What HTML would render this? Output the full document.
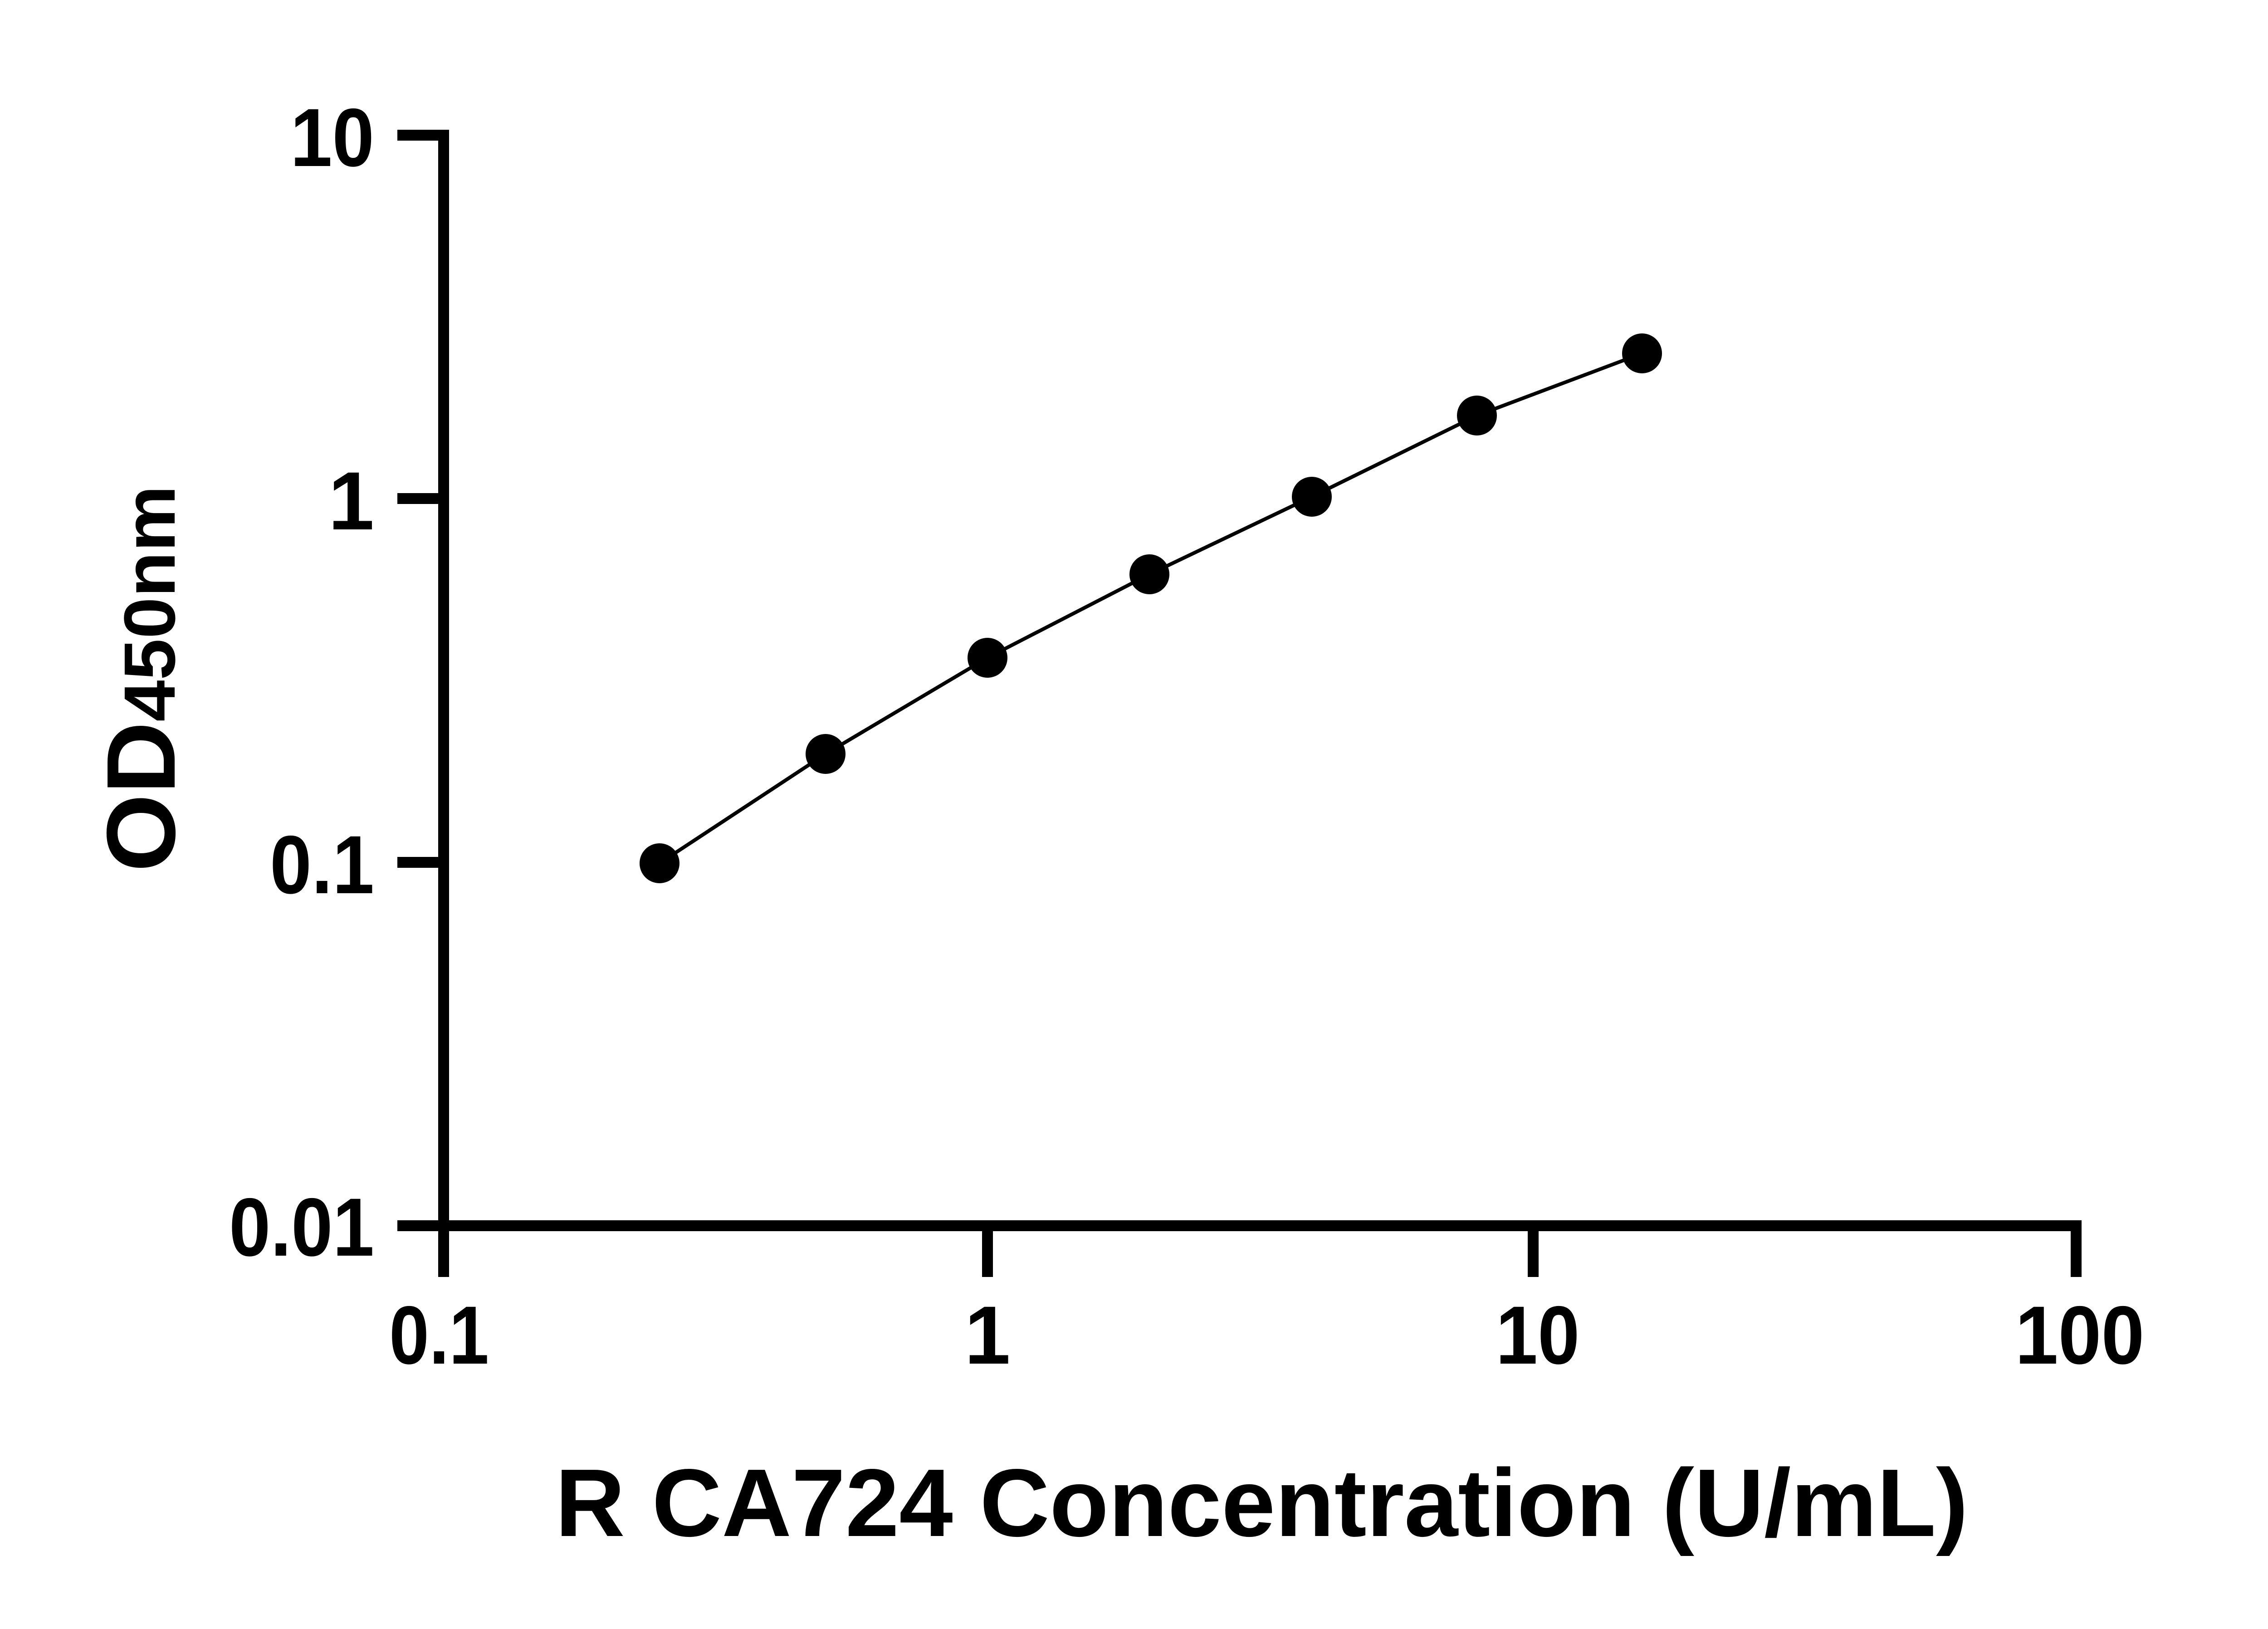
<!DOCTYPE html>
<html><head><meta charset="utf-8"><style>html,body{margin:0;padding:0;background:#fff}svg{display:block}
.t{font-family:"Liberation Sans",Arial,sans-serif;font-weight:bold}
</style></head>
<body>
<svg width="5138" height="3591" viewBox="0 0 5138 3591" xmlns="http://www.w3.org/2000/svg">
<rect width="5138" height="3591" fill="#fff"/>
<g stroke="#000" stroke-width="24" fill="none">
<line x1="978" y1="286" x2="978" y2="2815"/>
<line x1="966" y1="2702" x2="4589" y2="2702"/>
<line x1="876" y1="298" x2="990" y2="298"/>
<line x1="876" y1="1099" x2="978" y2="1099"/>
<line x1="876" y1="1901" x2="978" y2="1901"/>
<line x1="876" y1="2702" x2="978" y2="2702"/>
<line x1="2177" y1="2702" x2="2177" y2="2815"/>
<line x1="3380" y1="2702" x2="3380" y2="2815"/>
<line x1="4577" y1="2690" x2="4577" y2="2815"/>
</g>
<polyline fill="none" stroke="#000" stroke-width="8" points="1454,1903 1820,1662 2177,1450 2534,1266 2892,1095 3256,916 3620,779"/>
<g fill="#000">
<circle cx="1454" cy="1903" r="44"/>
<circle cx="1820" cy="1662" r="44"/>
<circle cx="2177" cy="1450" r="44"/>
<circle cx="2534" cy="1266" r="44"/>
<circle cx="2892" cy="1095" r="44"/>
<circle cx="3256" cy="916" r="44"/>
<circle cx="3620" cy="779" r="44"/>
</g>
<g class="t" font-size="182" fill="#000">
<text x="825" y="366" text-anchor="end" textLength="185" lengthAdjust="spacingAndGlyphs">10</text>
<text x="825" y="1167" text-anchor="end">1</text>
<text x="825" y="1969" text-anchor="end" textLength="230" lengthAdjust="spacingAndGlyphs">0.1</text>
<text x="825" y="2768" text-anchor="end" textLength="320" lengthAdjust="spacingAndGlyphs">0.01</text>
<text x="968" y="3006" text-anchor="middle" textLength="220" lengthAdjust="spacingAndGlyphs">0.1</text>
<text x="2177" y="3006" text-anchor="middle">1</text>
<text x="3390" y="3006" text-anchor="middle" textLength="185" lengthAdjust="spacingAndGlyphs">10</text>
<text x="4585" y="3006" text-anchor="middle" textLength="285" lengthAdjust="spacingAndGlyphs">100</text>
</g>
<text class="t" x="1224" y="3386" font-size="212" textLength="3115" lengthAdjust="spacingAndGlyphs" fill="#000">R CA724 Concentration (U/mL)</text>
<text class="t" transform="translate(385,1922) rotate(-90)" fill="#000" textLength="852" lengthAdjust="spacingAndGlyphs"><tspan font-size="215">OD</tspan><tspan font-size="160">450nm</tspan></text>
</svg>
</body></html>
